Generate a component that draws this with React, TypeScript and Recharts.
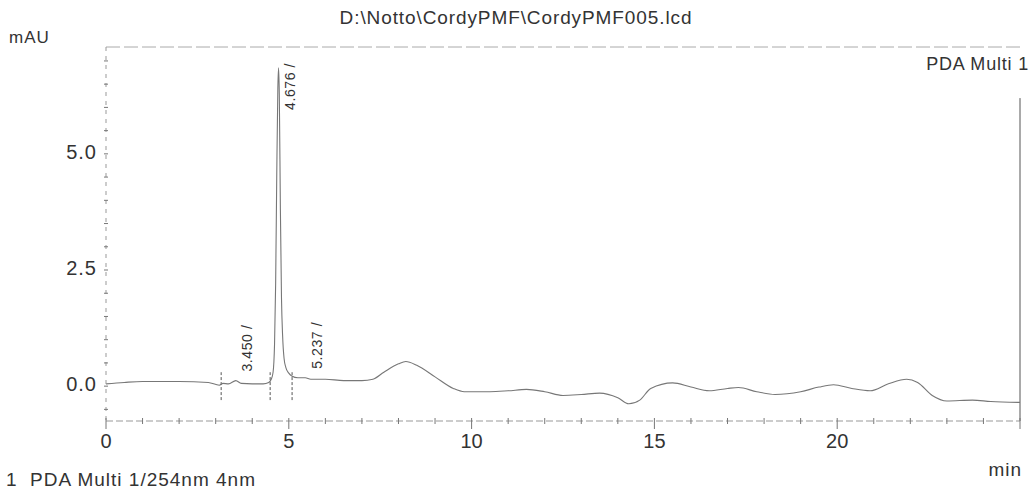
import React from "react"
import { ComposedChart, Line, Scatter, XAxis, YAxis, ReferenceLine } from "recharts"

// retention time (min) and absorbance (mAU)
const times = [
  0, 0.5, 1.0, 2.0, 2.8, 3.1, 3.2, 3.35, 3.55, 3.7, 4.0, 4.3, 4.45, 4.52, 4.57, 4.61, 4.64, 4.67, 4.7,
  4.72, 4.74, 4.77, 4.8, 4.83, 4.87, 4.92, 5.0, 5.08, 5.25, 5.45, 5.6, 6.0, 6.5, 7.0, 7.3, 7.6, 8.0, 8.2,
  8.5, 9.0, 9.5, 9.8, 10.5, 11.0, 11.5, 12.0, 12.5, 13.0, 13.5, 14.0, 14.3, 14.6, 14.9, 15.5, 16.0, 16.5,
  17.0, 17.3, 17.8, 18.3, 19.0, 19.5, 19.9, 20.4, 20.9, 21.4, 21.9, 22.2, 22.6, 23.0, 23.7, 24.2, 25.0,
]
const absorbance = [
  0.05, 0.08, 0.1, 0.1, 0.08, 0.02, 0.06, 0.05, 0.12, 0.06, 0.05, 0.05, 0.08, 0.15, 0.3, 0.9, 2.2, 4.5, 6.4,
  6.85, 6.3, 3.8, 1.9, 1.1, 0.6, 0.4, 0.28, 0.22, 0.18, 0.18, 0.15, 0.15, 0.12, 0.12, 0.15, 0.3, 0.48, 0.53,
  0.45, 0.2, -0.05, -0.12, -0.12, -0.1, -0.07, -0.12, -0.2, -0.18, -0.15, -0.25, -0.38, -0.3, -0.05, 0.07,
  -0.02, -0.1, -0.05, -0.03, -0.12, -0.18, -0.12, -0.02, 0.03, -0.05, -0.1, 0.05, 0.15, 0.08, -0.2, -0.32,
  -0.3, -0.33, -0.35,
]

// peak annotations: where the peak sits on the trace, and its printed label
const peakTimes = [3.55, 4.72, 5.45]
const peakHeights = [0.12, 6.85, 0.18]
const peakLabels = ["3.450 /", "4.676 /", "5.237 /"]

// integration start/end marks
const markTimes = [3.15, 4.49, 5.09]

const xTicks = Array.from({ length: 26 }, (_, i) => i)
const yTicks = [-0.5, 0, 0.5, 1, 1.5, 2, 2.5, 3, 3.5, 4, 4.5, 5, 5.5, 6, 6.5, 7]
const X_MAX = 25
const Y_MIN = -0.75
const Y_MAX = 7.3

const chartData = times.map((t, i) => ({ t, v: absorbance[i] }))
const peakData = peakTimes.map((t, i) => ({ t, v: peakHeights[i], label: peakLabels[i] }))

const FONT = '"Liberation Sans", Arial, sans-serif'
const INK = "#333"

const XTick = (props: any) => {
  const { x, y, payload } = props
  const major = payload.value % 5 === 0
  return (
    <g>
      <line x1={x} x2={x} y1={y - 3} y2={y + (major ? 8 : 3)} stroke="#777" />
      {major && payload.value < X_MAX && (
        <text x={x} y={y + 22} textAnchor="middle" dominantBaseline="middle" fontSize={20} fill={INK} fontFamily={FONT}>
          {payload.value}
        </text>
      )}
    </g>
  )
}

const YTick = (props: any) => {
  const { x, y, payload } = props
  const labelled = payload.value === 0 || payload.value === 2.5 || payload.value === 5
  return (
    <g>
      <line x1={x - 2} x2={x + 2} y1={y} y2={y} stroke="#777" />
      {labelled && (
        <text
          x={x - 9}
          y={y}
          textAnchor="end"
          dominantBaseline="middle"
          fontSize={20}
          letterSpacing={1}
          fill={INK}
          fontFamily={FONT}
        >
          {payload.value.toFixed(1)}
        </text>
      )}
    </g>
  )
}

const PeakLabel = (props: any) => {
  const { cx, cy, payload } = props
  const x = cx + 13
  const y = Math.max(cy - 9, 110)
  return (
    <text
      x={x}
      y={y}
      transform={`rotate(-90 ${x} ${y})`}
      dominantBaseline="middle"
      fontSize={14}
      letterSpacing={0.6}
      fill={INK}
      fontFamily={FONT}
    >
      {payload.label}
    </text>
  )
}

const textStyle: React.CSSProperties = {
  position: "absolute",
  fontFamily: FONT,
  color: INK,
  lineHeight: 1,
  whiteSpace: "nowrap",
}

export default function App() {
  return (
    <div style={{ position: "absolute", left: 0, top: 0, width: 1032, height: 491, background: "#fff", overflow: "hidden" }}>
      <div style={{ ...textStyle, top: 8, left: 0, width: 1032, textAlign: "center", fontSize: 19, letterSpacing: 0.9 }}>
        D:\Notto\CordyPMF\CordyPMF005.lcd
      </div>
      <div style={{ ...textStyle, top: 29, left: 9, fontSize: 17, letterSpacing: 1 }}>mAU</div>
      <div style={{ ...textStyle, top: 55, right: 3, fontSize: 18, letterSpacing: 0.8 }}>PDA Multi 1</div>
      <div style={{ ...textStyle, top: 460, right: 10, fontSize: 19, letterSpacing: 1 }}>min</div>
      <div style={{ ...textStyle, top: 470, left: 6, fontSize: 19, letterSpacing: 1 }}>1&nbsp;&nbsp;PDA Multi 1/254nm 4nm</div>

      <ComposedChart width={1032} height={491} data={chartData} margin={{ top: 47, right: 12, bottom: 40, left: 46 }}>
        <XAxis
          dataKey="t"
          type="number"
          domain={[0, X_MAX]}
          ticks={xTicks}
          interval={0}
          height={30}
          tickSize={0}
          tickMargin={0}
          tick={<XTick />}
          axisLine={{ stroke: "#999", strokeDasharray: "7 3" }}
        />
        <YAxis
          type="number"
          domain={[Y_MIN, Y_MAX]}
          ticks={yTicks}
          interval={0}
          width={60}
          tickSize={0}
          tickMargin={0}
          tick={<YTick />}
          axisLine={{ stroke: "#999", strokeDasharray: "4 5" }}
        />
        <ReferenceLine y={Y_MAX} stroke="#aaa" strokeDasharray="14 4" />
        <ReferenceLine
          segment={[
            { x: X_MAX, y: Y_MIN },
            { x: X_MAX, y: 6.2 },
          ]}
          stroke="#555"
        />
        {markTimes.map((t) => (
          <ReferenceLine
            key={t}
            segment={[
              { x: t, y: -0.3 },
              { x: t, y: 0.3 },
            ]}
            stroke="#555"
            strokeDasharray="3 2"
          />
        ))}
        <Line
          type="monotone"
          dataKey="v"
          stroke="#777"
          strokeWidth={1.1}
          dot={false}
          isAnimationActive={false}
        />
        <Scatter data={peakData} dataKey="v" shape={<PeakLabel />} isAnimationActive={false} />
      </ComposedChart>
    </div>
  )
}
